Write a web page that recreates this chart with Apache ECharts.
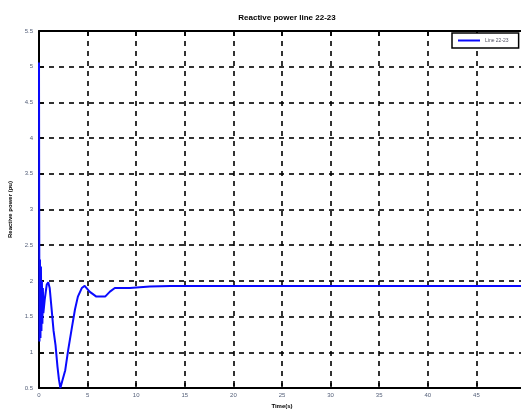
<!DOCTYPE html>
<html>
<head>
<meta charset="utf-8">
<script src="https://cdn.jsdelivr.net/npm/echarts@6/dist/echarts.min.js"></script>
<style>html,body{margin:0;padding:0;background:#fff;overflow:hidden}#c{width:521px;height:412px}</style>
</head>
<body>
<div id="c"></div>
<script>
const titleText = 'Reactive power line 22-23';
const xLabel = 'Time(s)';
const yLabel = 'Reactive power (pu)';
const seriesName = 'Line 22-23';
const timeValues = [0, 0.02, 0.05, 0.1, 0.15, 0.2, 0.25, 0.3, 0.35, 0.4, 0.45, 0.6, 0.8, 0.95, 1.1, 1.3, 1.5, 1.7, 1.9, 2.05, 2.2, 2.4, 2.7, 3.0, 3.4, 3.7, 4.0, 4.4, 4.7, 5.2, 5.9, 6.8, 7.3, 7.8, 9.35, 11.4, 13.5, 50];
const powerValues = [5.06, 3.0, 1.15, 2.3, 1.2, 2.2, 1.3, 2.0, 1.4, 1.9, 1.55, 1.75, 1.95, 1.98, 1.9, 1.6, 1.3, 1.1, 0.8, 0.62, 0.5, 0.6, 0.75, 1.03, 1.36, 1.6, 1.78, 1.9, 1.93, 1.85, 1.78, 1.78, 1.85, 1.9, 1.9, 1.92, 1.93, 1.93];
const xTicks = [0, 5, 10, 15, 20, 25, 30, 35, 40, 45, 50];
const yTicks = [0.5, 1, 1.5, 2, 2.5, 3, 3.5, 4, 4.5, 5, 5.5];

const chart = echarts.init(document.getElementById('c'));
const gridLine = {show: true, lineStyle: {color: '#000', type: [5, 5], width: 1.6}};
const axisLineBlack = {show: true, onZero: false, lineStyle: {color: '#000', width: 2}};
const lblStyle = {fontSize: 6, color: '#55607a', fontFamily: 'Liberation Sans'};
chart.setOption({
  animation: false,
  title: {text: titleText, left: 282, textAlign: 'center', top: 9,
    textStyle: {fontSize: 8, fontWeight: 'bold', color: '#000', fontFamily: 'Liberation Sans'}},
  legend: {data: [seriesName], left: 452, top: 33, orient: 'vertical',
    backgroundColor: '#fff', borderColor: '#000', borderWidth: 1.5, borderRadius: 0,
    padding: [5, 10, 5, 6], itemWidth: 22, itemHeight: 2, icon: 'rect',
    textStyle: {fontSize: 5, color: '#556'}},
  grid: {left: 39, top: 31, bottom: 24, right: -4, containLabel: false, outerBoundsMode: 'none'},
  xAxis: [{
    type: 'value', min: xTicks[0], max: xTicks[xTicks.length - 1], interval: 5,
    name: xLabel, nameLocation: 'middle', nameGap: 14,
    nameTextStyle: {fontSize: 6, fontWeight: 'bold', color: '#000', fontFamily: 'Liberation Sans'},
    axisLine: axisLineBlack, axisTick: {inside: true, length: 5, lineStyle: {color: '#000', width: 1.5}},
    axisLabel: Object.assign({margin: 4}, lblStyle),
    splitLine: gridLine
  }, {
    type: 'value', position: 'top', min: xTicks[0], max: xTicks[xTicks.length - 1], interval: 5,
    axisLine: axisLineBlack, axisTick: {inside: true, length: 5, lineStyle: {color: '#000', width: 1.5}},
    axisLabel: {show: false}, splitLine: {show: false}
  }],
  yAxis: [{
    type: 'value', min: yTicks[0], max: yTicks[yTicks.length - 1], interval: 0.5,
    name: yLabel, nameLocation: 'middle', nameGap: 24, nameRotate: 90,
    nameTextStyle: {fontSize: 6, fontWeight: 'bold', color: '#000', fontFamily: 'Liberation Sans'},
    axisLine: axisLineBlack, axisTick: {inside: true, length: 5, lineStyle: {color: '#000', width: 1.5}},
    axisLabel: Object.assign({margin: 6}, lblStyle),
    splitLine: gridLine
  }],
  series: [{
    name: seriesName, type: 'line', showSymbol: false, symbol: 'none', xAxisIndex: 0,
    lineStyle: {color: '#0a0aff', width: 2}, itemStyle: {color: '#0a0aff'},
    data: timeValues.map((t, i) => [t, powerValues[i]])
  }]
});
</script>
</body>
</html>
